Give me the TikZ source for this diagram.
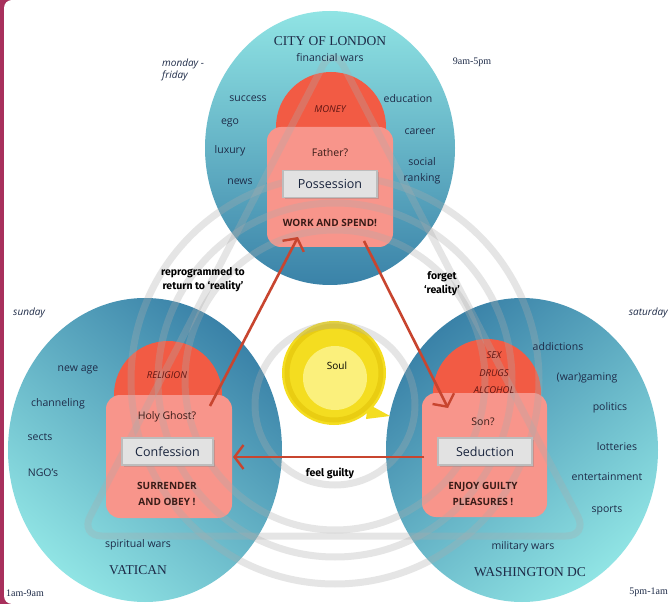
\documentclass[tikz,border=0pt]{standalone}
\usepackage{fontspec}
\setmainfont{Open Sans}
\newfontfamily\seriffam{Liberation Serif}
\newfontfamily\handfam{Fira Sans}
\usetikzlibrary{arrows.meta,shadows}
\definecolor{cLight}{HTML}{90E4E4}
\definecolor{cDark}{HTML}{3A82A8}
\definecolor{domered}{HTML}{F25B44}
\definecolor{pinkbox}{HTML}{F8958B}
\definecolor{txt}{HTML}{1E2B48}
\definecolor{boldtxt}{HTML}{3A1C18}
\definecolor{arrowred}{HTML}{C8452F}
\definecolor{edgecol}{HTML}{A8305C}
\definecolor{boxf}{HTML}{E2E2E2}
\definecolor{boxb}{HTML}{BDBDBD}
\definecolor{soulY}{HTML}{F4DD20}
\definecolor{soulL}{HTML}{FBF07C}
\definecolor{soulD}{HTML}{E9CD12}
\begin{document}
\begin{tikzpicture}[x=1pt,y=-1pt,
  wd/.style={font=\fontsize{10.5}{12}\selectfont, text=txt, inner sep=0pt},
  ttl/.style={font=\seriffam\fontsize{13.5}{15}\selectfont, text=txt, inner sep=0pt},
  tm/.style={font=\seriffam\fontsize{10}{12}\selectfont, text=txt, inner sep=0pt},
  dy/.style={font=\itshape\fontsize{10}{12}\selectfont, text=txt, inner sep=0pt, align=left},
  dt/.style={font=\itshape\fontsize{9.5}{11}\selectfont, text=boldtxt!80!red, inner sep=0pt},
  qq/.style={font=\fontsize{10.5}{12}\selectfont, text=boldtxt, inner sep=0pt},
  bd/.style={font=\bfseries\fontsize{10}{15.5}\selectfont, text=boldtxt, align=center, inner sep=0pt},
  bx/.style={draw=boxb, fill=boxf, line width=1.2pt, minimum height=27pt, inner sep=0pt,
     font=\fontsize{12.5}{14}\selectfont, text=txt!85!black,
     drop shadow={shadow xshift=1.5pt, shadow yshift=-1.5pt, opacity=.35}},
  lab/.style={font=\handfam\bfseries\fontsize{10.5}{14}\selectfont, align=center, text=black, inner sep=0pt},
  arr/.style={draw=arrowred, line width=2.6pt, -{Straight Barb[length=9pt,width=24pt,line width=2.4pt]}},
  pat/.style={draw=gray!65, opacity=.3, line width=7pt}
]
\useasboundingbox (0,0) rectangle (670,604);
% page edge
\fill[edgecol] (0,0) rectangle (670,604);
\fill[white, rounded corners=8pt] (4,0) rectangle (700,604);

% circles
\shade[top color=cLight, bottom color=cDark] (330,148) ellipse [x radius=125pt, y radius=137pt];
\shade[top color=cDark, bottom color=cLight, shading angle=-40] (145,450) ellipse [x radius=137pt, y radius=152pt];
\shade[top color=cDark, bottom color=cLight, shading angle=40] (522,450) ellipse [x radius=136pt, y radius=152pt];

% domes and pink panels
\fill[domered] (331,127) circle [radius=55pt];
\fill[domered] (168,395) circle [radius=54pt];
\fill[domered] (487,393) circle [radius=54pt];
\fill[pinkbox, rounded corners=14pt] (267,127) rectangle (393,247);
\fill[pinkbox, rounded corners=14pt] (106,395) rectangle (232,518);
\fill[pinkbox, rounded corners=14pt] (422,393) rectangle (547,517);

% soul
\fill[soulY] (368,404) -- (390,416) -- (366,419) -- cycle;
\fill[soulY] (334,373) circle [radius=52pt];
\draw[soulD, line width=5pt] (334,373) circle [radius=47pt];
\fill[soulL] (335,378) circle [radius=32pt];

% background trinity pattern
\draw[pat, rounded corners=22pt] (333,46) -- (588,536) -- (80,536) -- cycle;
\draw[pat] (335,380) circle [radius=150pt];
\draw[pat] (335,380) circle [radius=177pt];
\draw[pat] (335,380) circle [radius=204pt];
\draw[pat] (335,405) circle [radius=80pt];

% grey boxes
\node[bx, minimum width=94pt] (poss) at (330,184) {Possession};
\node[bx, minimum width=91pt] (conf) at (167.5,451.5) {Confession};
\node[bx, minimum width=94pt] (sed) at (485,451.5) {Seduction};

% top circle texts
\node[ttl] (lon) at (330,41) {CITY OF LONDON};
\node[wd] (fw) at (330,58) {financial wars};
\node[dy, anchor=west] (mon) at (162,70) {monday -\\friday};
\node[tm] (t1) at (472,62) {9am-5pm};
\node[wd] (suc) at (248,99) {success};
\node[wd] (ego) at (230,123) {ego};
\node[wd] (lux) at (230,151) {luxury};
\node[wd] (news) at (240,182) {news};
\node[wd] (edu) at (408,99) {education};
\node[wd] (car) at (420,132) {career};
\node[wd, align=center, font=\fontsize{10.5}{15.5}\selectfont] (soc) at (422,171) {social\\ranking};
\node[dt] (mny) at (330,109) {MONEY};
\node[qq] (fat) at (330,153) {Father?};
\node[bd] (work) at (330,223) {WORK AND SPEND!};

% left circle texts
\node[dy, anchor=west] (sun) at (13,313) {sunday};
\node[wd] (na) at (78,370) {new age};
\node[wd] (ch) at (58,404) {channeling};
\node[wd] (sec) at (40,437) {sects};
\node[wd] (ngo) at (43,473) {NGO's};
\node[wd] (spw) at (138,545) {spiritual wars};
\node[ttl] (vat) at (138,570) {VATICAN};
\node[tm, anchor=west] (t3) at (6,593) {1am-9am};
\node[dt] (rel) at (167,375) {RELIGION};
\node[qq] (hg) at (167,417) {Holy Ghost?};
\node[bd] (sur) at (167,494) {SURRENDER\\AND OBEY !};

% right circle texts
\node[dy, anchor=east] (sat) at (668,313) {saturday};
\node[wd] (add) at (558,347) {addictions};
\node[wd] (wg) at (587,378) {(war)gaming};
\node[wd] (pol) at (610,408) {politics};
\node[wd] (lot) at (617,447) {lotteries};
\node[wd] (ent) at (607,477) {entertainment};
\node[wd] (spo) at (607,510) {sports};
\node[wd] (mw) at (523,547) {military wars};
\node[ttl] (wdc) at (530,572) {WASHINGTON DC};
\node[tm, anchor=east] (t2) at (668,592) {5pm-1am};
\node[dt, align=center, font=\itshape\fontsize{9.5}{17.5}\selectfont] (sex) at (494,373) {SEX\\DRUGS\\ALCOHOL};
\node[qq] (son) at (483,422) {Son?};
\node[bd] (enj) at (483,494) {ENJOY GUILTY\\PLEASURES !};

% soul label
\node[font=\fontsize{10}{12}\selectfont, text=black, inner sep=0pt] (soul) at (337,366) {Soul};

% arrows
\coordinate (a1s) at (210,406);
\coordinate (a1e) at (298,237);
\coordinate (a2s) at (364,241);
\coordinate (a2e) at (448,408);
\coordinate (a3s) at (424,457);
\coordinate (a3e) at (233,457);
\draw[arr] (a1s) -- (a1e);
\draw[arr] (a2s) -- (a2e);
\draw[arr] (a3s) -- (a3e);

% arrow labels
\node[lab] (l1) at (203,280) {reprogrammed to\\return to ‘reality’};
\node[lab] (l2) at (442,284) {forget\\‘reality’};
\node[lab] (l3) at (330,473) {feel guilty};
\end{tikzpicture}
\end{document}
